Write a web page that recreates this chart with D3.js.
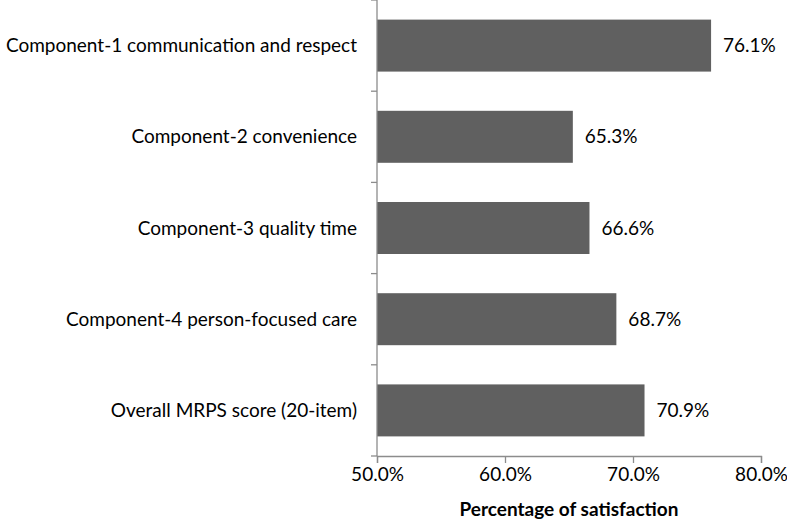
<!DOCTYPE html>
<html><head><meta charset="utf-8">
<script src="https://cdn.jsdelivr.net/npm/d3@7"></script>
<style>body{margin:0;background:#fff}svg{display:block}text{font-family:Lato,"Open Sans",sans-serif;fill:#000}</style>
</head><body>
<script>
const categories = ["Component-1 communication and respect","Component-2 convenience","Component-3 quality time","Component-4 person-focused care","Overall MRPS score (20-item)"];
const values = [76.1, 65.3, 66.6, 68.7, 70.9];
const tickValues = [50, 60, 70, 80];
const xTitle = "Percentage of satisfaction";

const W = 787, H = 526;
const FS = 19;
const m = {left: 377, right: 26, top: 0, bottom: 70};
const svg = d3.select("body").append("svg").attr("width", W).attr("height", H);
const x = d3.scaleLinear().domain([50, 80]).range([m.left, W - m.right]);
const y = d3.scaleBand().domain(categories).range([m.top, H - m.bottom]).paddingInner(0.43).paddingOuter(0.215);

svg.append("g").selectAll("rect").data(values).join("rect")
  .attr("x", x(50)).attr("y", (d,i) => y(categories[i]))
  .attr("width", d => x(d) - x(50)).attr("height", y.bandwidth())
  .attr("fill", "#606060");

svg.append("g").selectAll("text").data(values).join("text")
  .attr("x", d => x(d) + 12).attr("y", (d,i) => y(categories[i]) + y.bandwidth()/2)
  .attr("dy", "0.35em").attr("font-size", FS).text(d => d.toFixed(1) + "%");

// y axis
const yAxisG = svg.append("g").attr("transform", `translate(${m.left},0)`);
const yb = H - m.bottom;
const step = y.step();
yAxisG.append("line").attr("x1",0).attr("x2",0).attr("y1",m.top).attr("y2",yb).attr("stroke","#8c8c8c").attr("stroke-width",1.3);
yAxisG.selectAll("line.t").data(d3.range(categories.length+1)).join("line").attr("class","t")
  .attr("x1",-6).attr("x2",0).attr("y1",i=>m.top+i*step).attr("y2",i=>m.top+i*step)
  .attr("stroke","#8c8c8c").attr("stroke-width",1.3);
yAxisG.selectAll("text").data(categories).join("text")
  .attr("x",-20).attr("y",d=>y(d)+y.bandwidth()/2).attr("dy","0.35em")
  .attr("text-anchor","end").attr("font-size",FS).text(d=>d);

// x axis
const xAxis = d3.axisBottom(x).tickValues(tickValues).tickSize(7).tickPadding(5).tickFormat(d => d.toFixed(1) + "%");
const xg = svg.append("g").attr("transform", `translate(0,${yb})`).call(xAxis);
xg.select(".domain").attr("stroke","#8c8c8c").attr("stroke-width",1.3);
xg.selectAll(".tick line").attr("stroke","#8c8c8c").attr("stroke-width",1.3);
xg.selectAll(".tick text").attr("font-size",FS).attr("font-family","Lato, 'Open Sans', sans-serif").attr("fill","#000");

svg.append("text").attr("x", (x(50)+x(80))/2).attr("y", 516).attr("text-anchor","middle")
  .attr("font-size",FS).attr("font-weight","bold").text(xTitle);
</script>
</body></html>
